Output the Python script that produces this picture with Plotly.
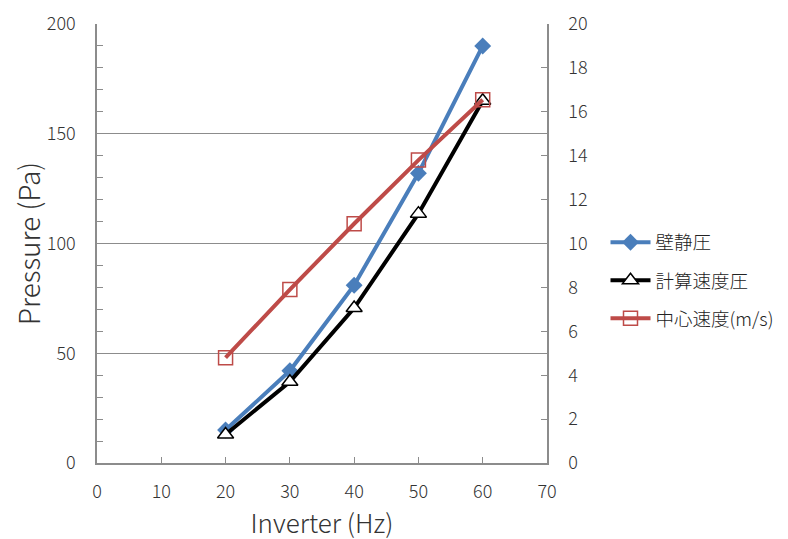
import plotly.graph_objects as go

inverter_hz = [20, 30, 40, 50, 60]
wall_static = [15, 42, 81, 132, 190]
calc_velocity_pressure = [13, 37, 70.6, 113.6, 165]
center_velocity = [4.8, 7.9, 10.9, 13.8, 16.55]

names = ["壁静圧", "計算速度圧", "中心速度(m/s)"]

FONT = "Noto Sans CJK JP, Noto Sans, sans-serif"
GRID = "#8c8c8c"
TXT = "#333333"

fig = go.Figure()
fig.add_trace(go.Scatter(
    x=inverter_hz, y=wall_static, name=names[0], mode="lines+markers",
    legendgroup="a",
    line=dict(color="#4A7EBB", width=4),
    marker=dict(symbol="diamond", size=13, color="#4A7EBB"),
    yaxis="y"))
fig.add_trace(go.Scatter(
    x=inverter_hz, y=calc_velocity_pressure, name=names[1], mode="lines+markers",
    legendgroup="b",
    line=dict(color="#000000", width=4),
    marker=dict(symbol="triangle-up", size=14, color="white",
                line=dict(color="black", width=1.5)),
    yaxis="y"))
fig.add_trace(go.Scatter(
    x=inverter_hz, y=center_velocity, name=names[2], mode="lines+markers",
    legendgroup="c",
    line=dict(color="#BE4B48", width=4),
    marker=dict(symbol="square", size=14, color="rgba(255,255,255,0)",
                line=dict(color="#BE4B48", width=1.5)),
    yaxis="y2"))

tickfont = dict(size=18, color=TXT, weight=300)

fig.update_layout(
    width=788, height=539,
    margin=dict(l=89, r=249, t=16, b=84, autoexpand=False),
    paper_bgcolor="white", plot_bgcolor="white",
    font=dict(family=FONT, size=16, color=TXT),
    showlegend=True,
    legend=dict(x=1.13, y=0.545, xanchor="left", yanchor="top",
                font=dict(size=18.5, color="#222222", weight=300),
                tracegroupgap=11, itemwidth=40, bgcolor="rgba(0,0,0,0)"),
    xaxis=dict(
        range=[0, 70], dtick=10, tick0=0,
        showline=True, linecolor=GRID, linewidth=1.5,
        ticks="inside", ticklen=6, tickcolor=GRID,
        showgrid=False, zeroline=False, automargin=False,
        ticklabelstandoff=12,
        title=dict(text="Inverter (Hz)", font=dict(size=26, color=TXT, weight=300), standoff=0),
        tickfont=tickfont),
    yaxis=dict(
        range=[0, 200], dtick=50,
        showline=True, linecolor=GRID, linewidth=1.5,
        ticks="inside", ticklen=6, tickcolor=GRID,
        minor=dict(dtick=10, ticks="inside", ticklen=6, tickcolor=GRID, showgrid=False),
        showgrid=True, gridcolor=GRID, gridwidth=1.2,
        zeroline=False, automargin=False,
        ticklabelstandoff=16,
        title=dict(text="Pressure (Pa)", font=dict(size=28, color=TXT, weight=300), standoff=13),
        tickfont=tickfont),
    yaxis2=dict(
        range=[0, 20], dtick=2, overlaying="y", side="right",
        showline=True, linecolor=GRID, linewidth=1.5,
        ticks="inside", ticklen=6, tickcolor=GRID,
        showgrid=False, zeroline=False, automargin=False,
        ticklabelstandoff=16,
        tickfont=tickfont),
)

fig.write_html("out.html")
